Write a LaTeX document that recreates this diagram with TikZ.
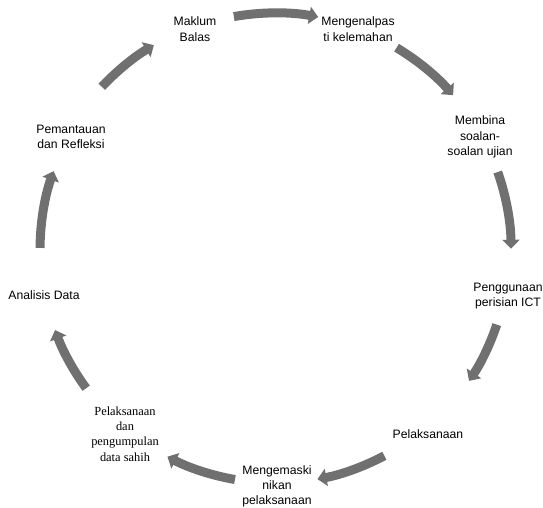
\documentclass[tikz,border=0pt]{standalone}
\usepackage{fontspec}
\setmainfont{Liberation Sans}
\newfontfamily\timesf{Liberation Serif}
\usetikzlibrary{arrows.meta,calc}
\definecolor{arrgray}{RGB}{112,112,112}
\begin{document}
\begin{tikzpicture}[x=1pt,y=1pt,
  lbl/.style={align=center,inner sep=0pt,font=\fontsize{12.2pt}{15.5pt}\selectfont},
  lbls/.style={align=center,inner sep=0pt,font=\timesf\fontsize{12.4pt}{15.2pt}\selectfont},
  cyc/.style={draw=arrgray,line width=9pt,-{Triangle[width=17pt,length=9pt]}}]
\useasboundingbox (0,0) rectangle (543,-507);
\coordinate (C) at (275,-250);
% labels
\node[lbl] (mb) at (195,-29) {Maklum\\Balas};
\node[lbl] (mk) at (358,-29) {Mengenalpas\\ti kelemahan};
\node[lbl] (ms) at (480,-137) {Membina\\soalan-\\soalan ujian};
\node[lbl] (pi) at (508,-296) {Penggunaan\\perisian ICT};
\node[lbl] (pl) at (428,-434) {Pelaksanaan};
\node[lbl,font=\fontsize{12.2pt}{14.8pt}\selectfont] (mp) at (277,-486.5) {Mengemaski\\nikan\\pelaksanaan};
\node[lbls] (pd) at (125,-434) {Pelaksanaan\\dan\\pengumpulan\\data sahih};
\node[lbl] (ad) at (44,-295) {Analisis Data};
\node[lbl] (pr) at (71,-137) {Pemantauan\\dan Refleksi};
% arrow start points on the cycle
\coordinate (s1) at ($(C)+(100:237pt)$);
\coordinate (s2) at ($(C)+(59:236pt)$);
\coordinate (s3) at ($(C)+(19.3:236pt)$);
\coordinate (s4) at ($(C)+(-18.6:234pt)$);
\coordinate (s5) at ($(C)+(-62:233pt)$);
\coordinate (s6) at ($(C)+(-99.9:233pt)$);
\coordinate (s7) at ($(C)+(216.2:234pt)$);
\coordinate (s8) at ($(C)+(179.5:235pt)$);
\coordinate (s9) at ($(C)+(136.7:238pt)$);
% arrows
\draw[cyc] (s1) arc[start angle=100,end angle=79.5,radius=237pt];
\draw[cyc] (s2) arc[start angle=59,end angle=41,radius=236pt];
\draw[cyc] (s3) arc[start angle=19.3,end angle=0.3,radius=236pt];
\draw[cyc] (s4) arc[start angle=-18.6,end angle=-34,radius=234pt];
\draw[cyc] (s5) arc[start angle=-62,end angle=-79.5,radius=233pt];
\draw[cyc] (s6) arc[start angle=-99.9,end angle=-117.5,radius=233pt];
\draw[cyc] (s7) arc[start angle=216.2,end angle=200,radius=234pt];
\draw[cyc] (s8) arc[start angle=179.5,end angle=160.4,radius=235pt];
\draw[cyc] (s9) arc[start angle=136.7,end angle=120.6,radius=238pt];
\end{tikzpicture}
\end{document}
